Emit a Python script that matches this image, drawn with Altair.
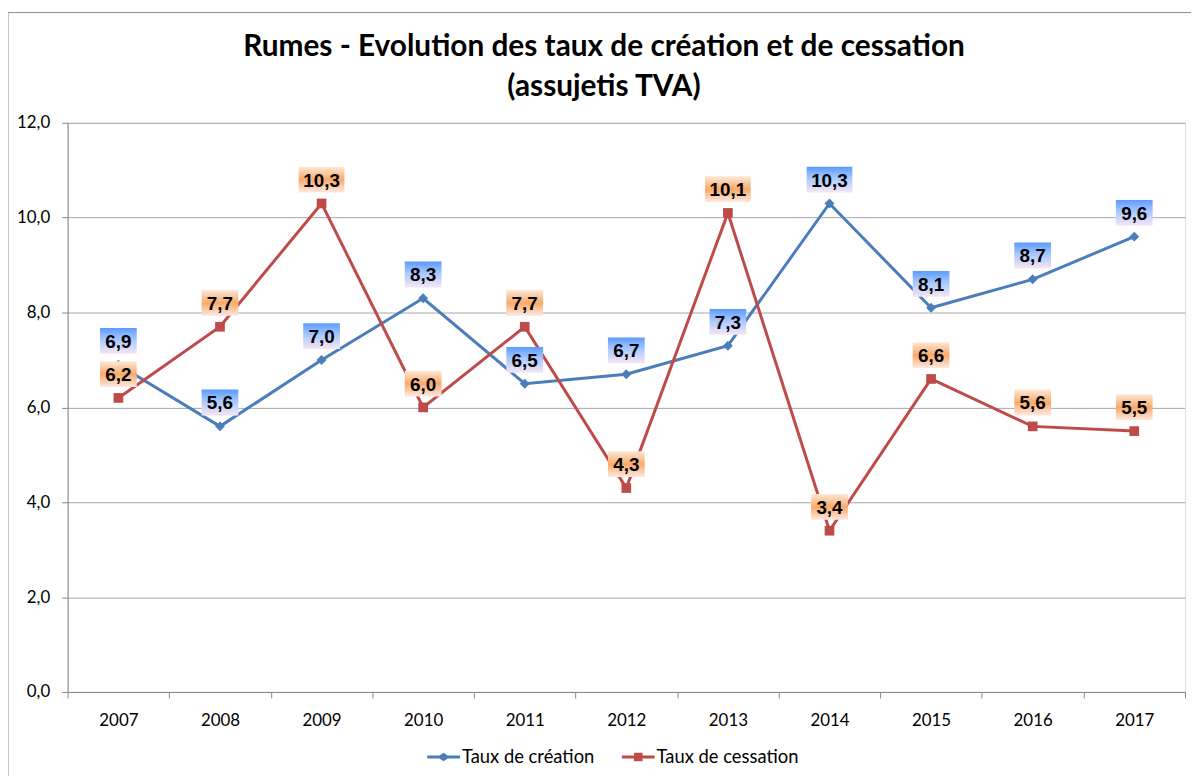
import altair as alt
import pandas as pd

years = ["2007", "2008", "2009", "2010", "2011", "2012", "2013", "2014", "2015", "2016", "2017"]
creation = [6.9, 5.6, 7.0, 8.3, 6.5, 6.7, 7.3, 10.3, 8.1, 8.7, 9.6]
cessation = [6.2, 7.7, 10.3, 6.0, 7.7, 4.3, 10.1, 3.4, 6.6, 5.6, 5.5]
series_names = ["Taux de création", "Taux de cessation"]
y_ticks = [0, 2, 4, 6, 8, 10, 12]
title_lines = ["Rumes - Evolution des taux de création et de cessation", "(assujetis TVA)"]

BLUE = "#4A7EBB"
RED = "#BE4B48"
GRID = "#A6A6A6"
AXIS = "#868686"

df = pd.DataFrame({
    "year": years * 2,
    "series": [series_names[0]] * len(years) + [series_names[1]] * len(years),
    "value": creation + cessation,
})

LABEL_EXPR = "replace(format(datum.value, '.1f'), '.', ',')"

X = alt.X(
    "year:N", title=None,
    scale=alt.Scale(type="band", paddingInner=0, paddingOuter=0),
    axis=alt.Axis(
        tickBand="extent", labelAngle=0, labelFont="Lato", labelFontSize=17,
        labelColor="black", domainColor=AXIS, tickColor=AXIS, tickSize=6,
        labelPadding=15, grid=False,
    ),
)
Y = alt.Y(
    "value:Q", title=None,
    scale=alt.Scale(domain=[0, 12], nice=False, zero=True),
    axis=alt.Axis(
        values=y_ticks, labelExpr="replace(format(datum.value, '.1f'), '.', ',')",
        labelFont="Lato", labelFontSize=17, labelColor="black",
        domainColor=AXIS, tickColor=AXIS, tickSize=6, labelPadding=12,
        grid=True, gridColor=GRID, gridWidth=1,
    ),
)

blue_grad = alt.LinearGradient(
    gradient="linear", x1=0, y1=0, x2=0, y2=1,
    stops=[
        alt.GradientStop(color="#5B9BFF", offset=0),
        alt.GradientStop(color="#A8C8FF", offset=0.45),
        alt.GradientStop(color="#F6E6F4", offset=1),
    ],
)
orange_grad = alt.LinearGradient(
    gradient="linear", x1=0, y1=0, x2=0, y2=1,
    stops=[
        alt.GradientStop(color="#FDE9D8", offset=0),
        alt.GradientStop(color="#F8AA6A", offset=0.5),
        alt.GradientStop(color="#FDE9E2", offset=1),
    ],
)

BOX3 = "M-1,-0.7027H1V0.7027H-1Z"   # 37 x 26
BOX4 = "M-1,-0.5652H1V0.5652H-1Z"   # 46 x 26

base = alt.Chart(df).transform_calculate(lab=LABEL_EXPR)


def series_layers(name, color, marker, msize, grad):
    s = base.transform_filter(alt.datum.series == name)
    line = s.mark_line(color=color, strokeWidth=3).encode(x=X, y=Y)
    pts = s.mark_point(shape=marker, filled=True, color=color, size=msize,
                       opacity=1).encode(x=X, y=Y)
    box3 = s.transform_filter("length(datum.lab) <= 3").mark_point(
        shape=BOX3, size=37 * 37, filled=True, fill=grad, strokeWidth=0,
        opacity=1, yOffset=-24).encode(x=X, y=Y)
    box4 = s.transform_filter("length(datum.lab) > 3").mark_point(
        shape=BOX4, size=46 * 46, filled=True, fill=grad, strokeWidth=0,
        opacity=1, yOffset=-24).encode(x=X, y=Y)
    txt = s.mark_text(font="Liberation Sans", fontWeight="bold", fontSize=19,
                      color="black", yOffset=-23, baseline="middle").encode(
        x=X, y=Y, text="lab:N")
    return line, pts, box3, box4, txt


bl, bp, bb3, bb4, bt = series_layers(series_names[0], BLUE, "diamond", 100, blue_grad)
rl, rp, rb3, rb4, rt = series_layers(series_names[1], RED, "square", 95, orange_grad)

LEG_DIAMOND = "M-1,-0.09H-0.25L0,-0.26L0.25,-0.09H1V0.09H0.25L0,0.26L-0.25,0.09H-1Z"
LEG_SQUARE = "M-1,-0.09H-0.26V-0.26H0.26V-0.09H1V0.09H0.26V0.26H-0.26V0.09H-1Z"

leg_params = dict(
    orient="none", legendX=362, legendY=622, direction="horizontal", title=None,
    symbolSize=33 * 33, labelFont="Lato", labelFontSize=18.5, labelColor="black",
    columnPadding=27, labelOffset=2, padding=0, symbolStrokeWidth=0,
)
legend_layer = alt.Chart(df).transform_filter("false").mark_point(
    filled=True, opacity=1, strokeWidth=0).encode(
    color=alt.Color("series:N", scale=alt.Scale(domain=series_names, range=[BLUE, RED]),
                    legend=alt.Legend(**leg_params)),
    shape=alt.Shape("series:N", scale=alt.Scale(domain=series_names, range=[LEG_DIAMOND, LEG_SQUARE]),
                    legend=alt.Legend(**leg_params)),
)

one = pd.DataFrame({"k": [0]})
border_top = alt.Chart(one).mark_rule(color="#8C8C8C", strokeWidth=1).encode(
    x=alt.value(-60), x2=alt.value(1140), y=alt.value(-111), y2=alt.value(-111))
border_left = alt.Chart(one).mark_rule(color="#8C8C8C", strokeWidth=1).encode(
    x=alt.value(-60), x2=alt.value(-60), y=alt.value(-111), y2=alt.value(700))

title1 = alt.Chart(one).mark_text(font="Lato", fontSize=30, fontWeight="bold", color="black",
                                  align="center", baseline="middle").encode(
    x=alt.value(540), y=alt.value(-76), text=alt.value(title_lines[0]))
title2 = alt.Chart(one).mark_text(font="Lato", fontSize=30, fontWeight="bold", color="black",
                                  align="center", baseline="middle").encode(
    x=alt.value(540), y=alt.value(-36), text=alt.value(title_lines[1]))

chart = alt.layer(
    bl, rl, bp, rp, bb3, bb4, bt, rb3, rb4, rt, legend_layer,
    border_top, border_left, title1, title2
).properties(
    width=1125, height=573,
    autosize=alt.AutoSizeParams(type="none"),
    padding={"left": 60, "top": 113, "right": 6, "bottom": 82},
).configure_view(stroke=None).configure(background="white")

chart.save("out.html", embed_options={"renderer": "svg", "actions": False})
